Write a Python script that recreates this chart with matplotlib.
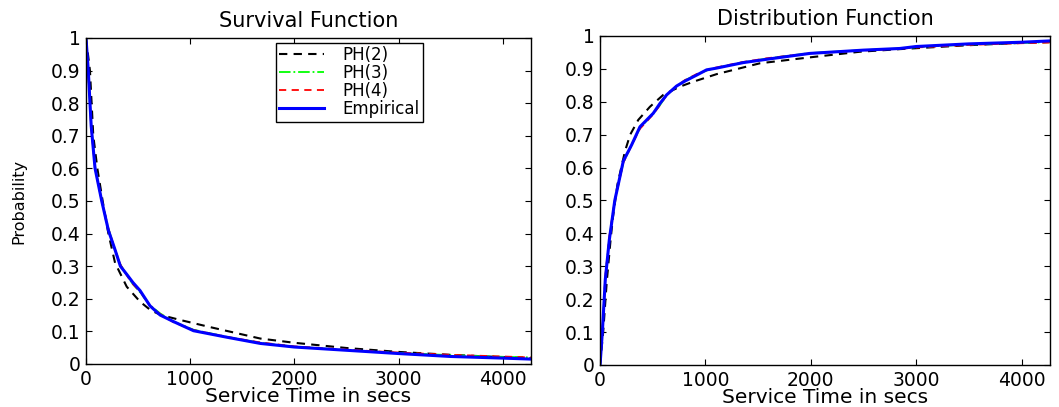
import matplotlib
matplotlib.use("Agg")
import matplotlib.pyplot as plt
from matplotlib.ticker import FuncFormatter

# Survival function
t_surv_ph2 = [0, 38, 70, 109, 160, 215, 279, 391, 519, 620, 720, 904, 1192, 1673, 2000, 2500, 3000, 3500, 4000, 4270]
surv_ph2 = [1.0, 0.90, 0.70, 0.60, 0.50, 0.40, 0.31, 0.237, 0.191, 0.165, 0.150, 0.135, 0.113, 0.078, 0.065, 0.049, 0.037, 0.028, 0.021, 0.018]

t_surv = [0, 22, 50, 87, 151, 215, 279, 330, 391, 450, 519, 615, 712, 840, 1032, 1353, 1673, 2000, 2500, 3000, 3500, 4000, 4270]
surv_ph3 = [1.0, 0.89, 0.73, 0.605, 0.50, 0.415, 0.35, 0.305, 0.272, 0.245, 0.22, 0.18, 0.155, 0.13, 0.105, 0.083, 0.065, 0.053, 0.043, 0.034, 0.027, 0.022, 0.020]
surv_ph4 = [1.0, 0.89, 0.725, 0.60, 0.50, 0.415, 0.35, 0.305, 0.272, 0.245, 0.222, 0.178, 0.153, 0.128, 0.104, 0.083, 0.066, 0.054, 0.044, 0.035, 0.028, 0.023, 0.020]
surv_emp = [1.0, 0.90, 0.73, 0.60, 0.50, 0.41, 0.35, 0.30, 0.275, 0.25, 0.225, 0.178, 0.150, 0.130, 0.102, 0.082, 0.063, 0.052, 0.042, 0.032, 0.023, 0.018, 0.015]

# Distribution function
t_cdf_ph2 = [0, 30, 63, 100, 123, 166, 237, 286, 363, 474, 600, 758, 885, 1106, 1517, 1991, 2464, 2844, 3500, 4000, 4270]
cdf_ph2 = [0, 0.10, 0.25, 0.38, 0.45, 0.55, 0.65, 0.70, 0.745, 0.785, 0.821, 0.846, 0.861, 0.884, 0.917, 0.935, 0.952, 0.960, 0.972, 0.979, 0.982]

t_cdf = [0, 22, 50, 88, 140, 221, 300, 379, 505, 569, 632, 727, 806, 916, 1011, 1100, 1358, 1600, 1991, 2500, 2844, 3000, 3500, 4000, 4270]
cdf_ph3 = [0, 0.10, 0.265, 0.385, 0.50, 0.615, 0.67, 0.72, 0.765, 0.79, 0.82, 0.848, 0.865, 0.883, 0.895, 0.903, 0.92, 0.932, 0.948, 0.957, 0.962, 0.966, 0.974, 0.979, 0.981]
cdf_ph4 = [0, 0.10, 0.27, 0.39, 0.50, 0.615, 0.668, 0.718, 0.762, 0.79, 0.82, 0.848, 0.866, 0.884, 0.896, 0.904, 0.921, 0.933, 0.947, 0.956, 0.961, 0.965, 0.973, 0.978, 0.980]
cdf_emp = [0, 0.10, 0.26, 0.38, 0.50, 0.62, 0.669, 0.724, 0.765, 0.795, 0.821, 0.848, 0.863, 0.881, 0.897, 0.902, 0.919, 0.930, 0.947, 0.957, 0.962, 0.968, 0.976, 0.981, 0.985]

labels = ["PH(2)", "PH(3)", "PH(4)", "Empirical"]
xticks = [0, 1000, 2000, 3000, 4000]
yticks = [0, 0.1, 0.2, 0.3, 0.4, 0.5, 0.6, 0.7, 0.8, 0.9, 1.0]

plt.rcParams["font.family"] = ["DejaVu Sans"]

fig = plt.figure(figsize=(10.59, 4.07), dpi=100)
ax1 = fig.add_axes([0.0812, 0.1057, 0.4202, 0.801])
ax2 = fig.add_axes([0.5666, 0.1032, 0.4249, 0.8084])


def style_axes(ax, title):
    ax.set_xlim(0, 4270)
    ax.set_ylim(0, 1)
    ax.set_xticks(xticks)
    ax.set_yticks(yticks)
    ax.yaxis.set_major_formatter(FuncFormatter(lambda v, p: f"{v:g}"))
    ax.tick_params(direction="in", length=4, width=0.8, top=True, right=True,
                   labelsize=13.5, pad=4)
    for s in ax.spines.values():
        s.set_linewidth(1.0)
    ax.set_title(title, fontsize=15, pad=8)
    ax.set_xlabel("Service Time in secs", fontsize=14.5, labelpad=-1)


def draw(ax, t2, y2, t, y3, y4, ye):
    ax.plot(t2, y2, color="black", lw=1.5, dashes=(4, 3), label=labels[0])
    ax.plot(t, y3, color=(0, 1, 0), lw=1.3, linestyle="-.", label=labels[1])
    ax.plot(t, y4, color="red", lw=1.3, dashes=(4, 3), label=labels[2])
    ax.plot(t, ye, color="blue", lw=2.2, label=labels[3])


draw(ax1, t_surv_ph2, surv_ph2, t_surv, surv_ph3, surv_ph4, surv_emp)
draw(ax2, t_cdf_ph2, cdf_ph2, t_cdf, cdf_ph3, cdf_ph4, cdf_emp)

style_axes(ax1, "Survival Function")
style_axes(ax2, "Distribution Function")

ax1.set_ylabel("Probability", fontsize=11.5)
ax1.yaxis.set_label_coords(-0.133, 0.5)

leg = ax1.legend(loc="upper left", bbox_to_anchor=(0.427, 0.985), borderaxespad=0,
                 fontsize=12, handlelength=2.7, handletextpad=1.1,
                 labelspacing=0.0, borderpad=0.2, fancybox=False,
                 framealpha=1, edgecolor="black")
leg.get_frame().set_linewidth(1.0)

plt.savefig("out.png", dpi=100)
